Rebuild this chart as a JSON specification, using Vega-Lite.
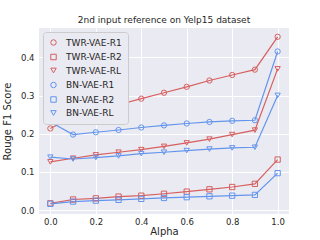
{
  "$schema": "https://vega.github.io/schema/vega-lite/v6.json",
  "width": 250,
  "height": 186,
  "autosize": "none",
  "padding": {"left": 39, "top": 28, "right": 31, "bottom": 26},
  "background": "white",
  "title": {"text": "2nd input reference on Yelp15 dataset", "fontSize": 9, "fontWeight": "normal", "font": "DejaVu Sans", "color": "#262626", "offset": 3},
  "config": {
    "view": {"fill": "#eaeaf2", "stroke": null},
    "font": "DejaVu Sans",
    "axis": {"grid": true, "gridColor": "white", "gridWidth": 1, "domain": false, "ticks": false, "labelFontSize": 8.5, "labelColor": "#262626", "titleFontSize": 10, "titleFontWeight": "normal", "titleColor": "#262626", "labelPadding": 5}
  },
  "data": {"values": [
    {"alpha": 0.0, "series": "TWR-VAE-R1", "value": 0.214},
    {"alpha": 0.1, "series": "TWR-VAE-R1", "value": 0.245},
    {"alpha": 0.2, "series": "TWR-VAE-R1", "value": 0.2616},
    {"alpha": 0.3, "series": "TWR-VAE-R1", "value": 0.276},
    {"alpha": 0.4, "series": "TWR-VAE-R1", "value": 0.292},
    {"alpha": 0.5, "series": "TWR-VAE-R1", "value": 0.3075},
    {"alpha": 0.6, "series": "TWR-VAE-R1", "value": 0.323},
    {"alpha": 0.7, "series": "TWR-VAE-R1", "value": 0.3395},
    {"alpha": 0.8, "series": "TWR-VAE-R1", "value": 0.354},
    {"alpha": 0.9, "series": "TWR-VAE-R1", "value": 0.368},
    {"alpha": 1.0, "series": "TWR-VAE-R1", "value": 0.454},
    {"alpha": 0.0, "series": "TWR-VAE-R2", "value": 0.018},
    {"alpha": 0.1, "series": "TWR-VAE-R2", "value": 0.028},
    {"alpha": 0.2, "series": "TWR-VAE-R2", "value": 0.031},
    {"alpha": 0.3, "series": "TWR-VAE-R2", "value": 0.0356},
    {"alpha": 0.4, "series": "TWR-VAE-R2", "value": 0.038},
    {"alpha": 0.5, "series": "TWR-VAE-R2", "value": 0.043},
    {"alpha": 0.6, "series": "TWR-VAE-R2", "value": 0.0486},
    {"alpha": 0.7, "series": "TWR-VAE-R2", "value": 0.0546},
    {"alpha": 0.8, "series": "TWR-VAE-R2", "value": 0.0607},
    {"alpha": 0.9, "series": "TWR-VAE-R2", "value": 0.069},
    {"alpha": 1.0, "series": "TWR-VAE-R2", "value": 0.1325},
    {"alpha": 0.0, "series": "TWR-VAE-RL", "value": 0.1265},
    {"alpha": 0.1, "series": "TWR-VAE-RL", "value": 0.136},
    {"alpha": 0.2, "series": "TWR-VAE-RL", "value": 0.1447},
    {"alpha": 0.3, "series": "TWR-VAE-RL", "value": 0.1517},
    {"alpha": 0.4, "series": "TWR-VAE-RL", "value": 0.1585},
    {"alpha": 0.5, "series": "TWR-VAE-RL", "value": 0.167},
    {"alpha": 0.6, "series": "TWR-VAE-RL", "value": 0.176},
    {"alpha": 0.7, "series": "TWR-VAE-RL", "value": 0.186},
    {"alpha": 0.8, "series": "TWR-VAE-RL", "value": 0.198},
    {"alpha": 0.9, "series": "TWR-VAE-RL", "value": 0.2096},
    {"alpha": 1.0, "series": "TWR-VAE-RL", "value": 0.37},
    {"alpha": 0.0, "series": "BN-VAE-R1", "value": 0.231},
    {"alpha": 0.1, "series": "BN-VAE-R1", "value": 0.198},
    {"alpha": 0.2, "series": "BN-VAE-R1", "value": 0.204},
    {"alpha": 0.3, "series": "BN-VAE-R1", "value": 0.21},
    {"alpha": 0.4, "series": "BN-VAE-R1", "value": 0.2165},
    {"alpha": 0.5, "series": "BN-VAE-R1", "value": 0.222},
    {"alpha": 0.6, "series": "BN-VAE-R1", "value": 0.227},
    {"alpha": 0.7, "series": "BN-VAE-R1", "value": 0.231},
    {"alpha": 0.8, "series": "BN-VAE-R1", "value": 0.234},
    {"alpha": 0.9, "series": "BN-VAE-R1", "value": 0.2355},
    {"alpha": 1.0, "series": "BN-VAE-R1", "value": 0.4156},
    {"alpha": 0.0, "series": "BN-VAE-R2", "value": 0.0166},
    {"alpha": 0.1, "series": "BN-VAE-R2", "value": 0.0226},
    {"alpha": 0.2, "series": "BN-VAE-R2", "value": 0.025},
    {"alpha": 0.3, "series": "BN-VAE-R2", "value": 0.027},
    {"alpha": 0.4, "series": "BN-VAE-R2", "value": 0.0296},
    {"alpha": 0.5, "series": "BN-VAE-R2", "value": 0.032},
    {"alpha": 0.6, "series": "BN-VAE-R2", "value": 0.034},
    {"alpha": 0.7, "series": "BN-VAE-R2", "value": 0.0364},
    {"alpha": 0.8, "series": "BN-VAE-R2", "value": 0.038},
    {"alpha": 0.9, "series": "BN-VAE-R2", "value": 0.04},
    {"alpha": 1.0, "series": "BN-VAE-R2", "value": 0.097},
    {"alpha": 0.0, "series": "BN-VAE-RL", "value": 0.1387},
    {"alpha": 0.1, "series": "BN-VAE-RL", "value": 0.134},
    {"alpha": 0.2, "series": "BN-VAE-RL", "value": 0.1377},
    {"alpha": 0.3, "series": "BN-VAE-RL", "value": 0.142},
    {"alpha": 0.4, "series": "BN-VAE-RL", "value": 0.148},
    {"alpha": 0.5, "series": "BN-VAE-RL", "value": 0.1517},
    {"alpha": 0.6, "series": "BN-VAE-RL", "value": 0.156},
    {"alpha": 0.7, "series": "BN-VAE-RL", "value": 0.16},
    {"alpha": 0.8, "series": "BN-VAE-RL", "value": 0.163},
    {"alpha": 0.9, "series": "BN-VAE-RL", "value": 0.1647},
    {"alpha": 1.0, "series": "BN-VAE-RL", "value": 0.3005}
  ]},
  "encoding": {
    "x": {"field": "alpha", "type": "quantitative", "title": "Alpha", "scale": {"domain": [-0.05, 1.05], "nice": false, "zero": false}, "axis": {"values": [0, 0.2, 0.4, 0.6, 0.8, 1.0], "format": ".1f", "labelPadding": 3, "titlePadding": 1}},
    "y": {"field": "value", "type": "quantitative", "title": "Rouge F1 Score", "scale": {"domain": [-0.01, 0.477], "nice": false, "zero": false}, "axis": {"values": [0, 0.1, 0.2, 0.3, 0.4], "format": ".1f", "titlePadding": 8}},
    "color": {"field": "series", "type": "nominal", "title": null,
      "scale": {"domain": ["TWR-VAE-R1", "TWR-VAE-R2", "TWR-VAE-RL", "BN-VAE-R1", "BN-VAE-R2", "BN-VAE-RL"], "range": ["#d65f5f", "#d65f5f", "#d65f5f", "#6495ed", "#6495ed", "#6495ed"]},
      "legend": {"orient": "top-left", "offset": 4, "padding": 6, "fillColor": "#eaeaf2", "strokeColor": "#cccccc", "cornerRadius": 3, "labelFontSize": 9, "labelColor": "#262626", "rowPadding": 3.5, "symbolSize": 30, "symbolFillColor": "transparent", "symbolStrokeWidth": 1, "labelOffset": 8}}
  },
  "layer": [
    {"mark": {"type": "line", "strokeWidth": 1.2}, "encoding": {}},
    {"mark": {"type": "point", "filled": false, "size": 28, "strokeWidth": 1, "opacity": 1},
     "encoding": {
       "shape": {"field": "series", "type": "nominal", "title": null,
         "scale": {"domain": ["TWR-VAE-R1", "TWR-VAE-R2", "TWR-VAE-RL", "BN-VAE-R1", "BN-VAE-R2", "BN-VAE-RL"], "range": ["circle", "square", "triangle-down", "circle", "square", "triangle-down"]}}
     }}
  ]
}
